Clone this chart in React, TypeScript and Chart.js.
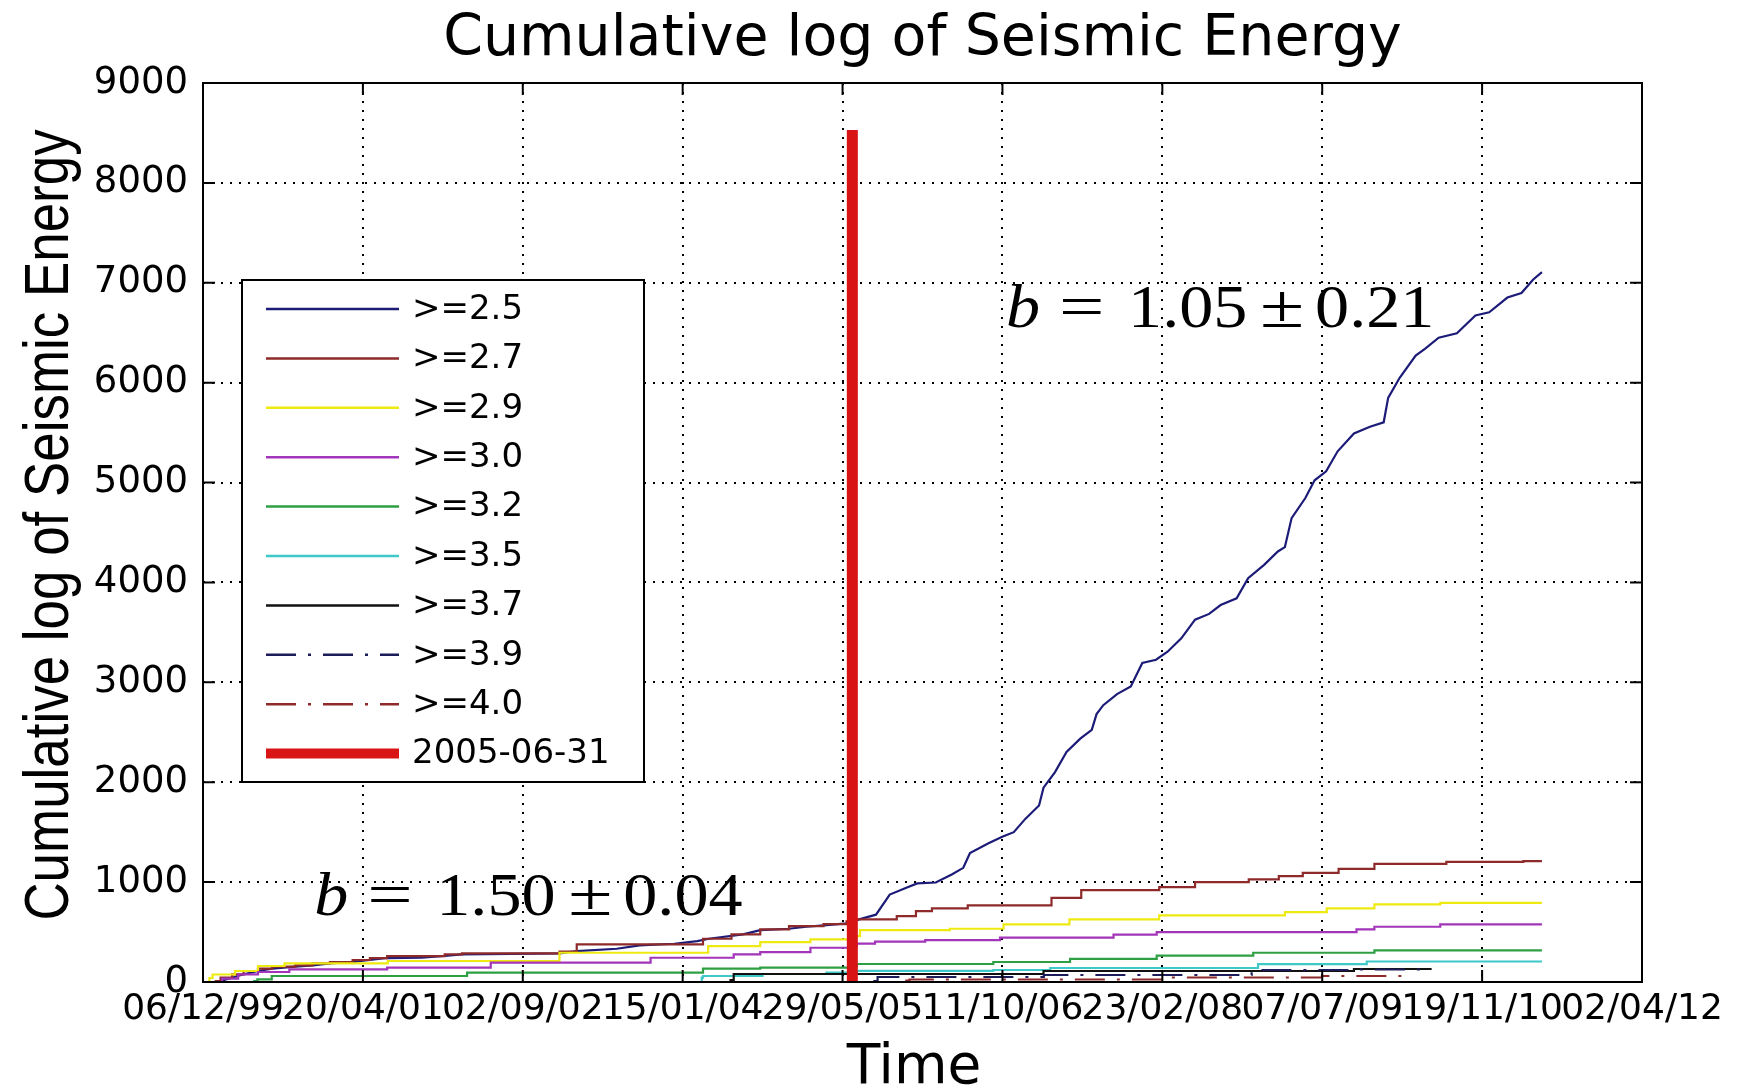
import React, { useEffect, useRef } from "react";
import { Chart, registerables } from "chart.js";

Chart.register(...registerables);

// ---------- data ----------
const X_SPAN_DAYS = 4501; // days from 06/12/1999 to 02/04/2012
const X_TICK_LABELS = [
  "06/12/99", "20/04/01", "02/09/02", "15/01/04", "29/05/05",
  "11/10/06", "23/02/08", "07/07/09", "19/11/10", "02/04/12",
];
const Y_MAX = 9000;
const Y_STEP = 1000;

const SERIES_LABELS = [">=2.5", ">=2.7", ">=2.9", ">=3.0", ">=3.2", ">=3.5", ">=3.7", ">=3.9", ">=4.0"];

// [day since 06/12/1999, cumulative value]
const M25: [number, number][] = [
  [40, 0], [55, 10], [91, 43], [127, 77], [172, 110], [217, 133], [289, 153], [343, 167], [397, 187],
  [468, 200], [522, 220], [576, 240], [684, 243], [756, 260], [810, 277], [1115, 287], [1169, 310],
  [1294, 333], [1366, 367], [1474, 383], [1546, 410], [1582, 433], [1689, 477], [1743, 520], [1833, 533],
  [1887, 553], [1941, 567], [2013, 587], [2033, 600], [2055, 630], [2105, 674], [2148, 875], [2198, 942],
  [2234, 987], [2292, 996], [2342, 1076], [2378, 1143], [2399, 1290], [2457, 1388], [2500, 1455],
  [2536, 1500], [2572, 1633], [2615, 1767], [2629, 1946], [2665, 2102], [2701, 2302], [2744, 2436],
  [2780, 2525], [2795, 2682], [2816, 2771], [2859, 2882], [2902, 2958], [2938, 3194], [2981, 3226],
  [3017, 3306], [3060, 3440], [3103, 3627], [3147, 3685], [3183, 3774], [3233, 3841], [3269, 4042],
  [3319, 4176], [3362, 4310], [3384, 4354], [3405, 4644], [3448, 4845], [3477, 5023], [3513, 5112],
  [3549, 5313], [3600, 5491], [3650, 5558], [3693, 5603], [3707, 5848], [3743, 6049], [3793, 6272],
  [3822, 6339], [3865, 6450], [3922, 6495], [3980, 6673], [4023, 6705], [4080, 6852], [4124, 6897],
  [4160, 7031], [4188, 7106],
];
const M27: [number, number][] = [
  [40, 0], [55, 10], [91, 43], [127, 77], [172, 110], [217, 133], [289, 153], [343, 167], [397, 187],
  [468, 200], [522, 220], [576, 240], [756, 260], [810, 277], [1115, 287], [1169, 305], [1564, 377],
  [1653, 433], [1743, 477], [1833, 527], [1941, 560], [2013, 580], [2040, 607], [2170, 627], [2230, 660],
  [2280, 710], [2392, 737], [2654, 767], [2747, 843], [2991, 920], [3103, 950], [3271, 1000], [3365, 1027],
  [3440, 1060], [3552, 1093], [3664, 1133], [3889, 1183], [4130, 1203], [4188, 1210],
];
const M29: [number, number][] = [
  [20, 0], [30, 40], [100, 75], [172, 110], [255, 160], [578, 187], [1115, 210], [1580, 293], [1743, 360],
  [1900, 400], [2020, 427], [2055, 460], [2336, 520], [2504, 533], [2710, 577], [2991, 627], [3384, 667],
  [3515, 700], [3664, 737], [3870, 777], [4038, 793], [4188, 793],
];
const M30: [number, number][] = [
  [60, 0], [110, 33], [172, 77], [270, 100], [576, 127], [900, 143], [1400, 193], [1660, 243], [1743, 277],
  [1900, 300], [2020, 343], [2045, 360], [2102, 385], [2259, 405], [2493, 420], [2848, 445], [2983, 475],
  [3608, 500], [3664, 527], [3870, 553], [4020, 577], [4188, 577],
];
const M32: [number, number][] = [
  [160, 0], [170, 10], [215, 27], [826, 60], [1564, 93], [1743, 133], [2020, 143], [2045, 155], [2472, 180],
  [2712, 200], [2983, 232], [3285, 265], [3664, 293], [3739, 317], [4188, 317],
];
const M35: [number, number][] = [
  [1560, 0], [1564, 43], [1750, 60], [1950, 80], [2045, 95], [2472, 112], [2650, 120], [3300, 140],
  [3640, 178], [4010, 205], [4188, 205],
];
const M37: [number, number][] = [[1650, 0], [1660, 20], [2629, 80], [3600, 110], [3660, 130], [3843, 130]];
const M39: [number, number][] = [[2100, 0], [2110, 10], [2630, 50], [3280, 70], [3600, 120], [3843, 125]];
const M40: [number, number][] = [[2200, 0], [2210, 15], [3000, 25], [3500, 45], [3750, 60]];

const BREAK_LABEL = "2005-06-31";
const BREAK_DAY = 2031;
const BREAK_TOP = 8530;

const B_BEFORE = ["b", "=", "1.50", "±", "0.04"];
const B_AFTER = ["b", "=", "1.05", "±", "0.21"];
// annotation anchors in data units [day, value]
const B_BEFORE_AT: [number, number] = [348, 672];
const B_AFTER_AT: [number, number] = [2512, 6560];

// ---------- styles ----------
const SERIES_DATA = [M25, M27, M29, M30, M32, M35, M37, M39, M40];
const SERIES_COLORS = ["#1c1c78", "#8e2a2a", "#eeea10", "#a335ba", "#2ea043", "#3ec8c8", "#111111", "#1c1c5a", "#8e2a2a"];
const DASHDOT = [30, 12, 3, 12];
const SERIES_DASH = [[], [], [], [], [], [], [], DASHDOT, DASHDOT];
const SERIES_STEPPED: (false | "after")[] = [false, "after", "after", "after", "after", "after", "after", "after", "after"];
const BREAK_COLOR = "#d91414";
const B_PIECE_OFFSETS = [0, 53, 122, 254, 309];
const B_PIECE_XSCALE = [1.1, 1.3, 1.1, 1.3, 1.1];

const SANS = '"DejaVu Sans", sans-serif';

const overlay = {
  id: "overlay",
  afterDatasetsDraw(chart: any) {
    const { ctx, chartArea: a, scales } = chart;
    const xs = scales.x;
    const ys = scales.y;
    ctx.save();
    ctx.strokeStyle = "#000";
    ctx.lineWidth = 2;
    ctx.setLineDash([]);
    const TL = 12;
    xs.ticks.forEach((t: any) => {
      const px = xs.getPixelForValue(t.value);
      ctx.beginPath();
      ctx.moveTo(px, a.bottom); ctx.lineTo(px, a.bottom - TL);
      ctx.moveTo(px, a.top); ctx.lineTo(px, a.top + TL);
      ctx.stroke();
    });
    ys.ticks.forEach((t: any) => {
      const py = ys.getPixelForValue(t.value);
      ctx.beginPath();
      ctx.moveTo(a.left, py); ctx.lineTo(a.left + TL, py);
      ctx.moveTo(a.right, py); ctx.lineTo(a.right - TL, py);
      ctx.stroke();
    });
    ctx.lineWidth = 2;
    ctx.strokeRect(a.left, a.top, a.right - a.left, a.bottom - a.top);
    ctx.restore();
  },
  afterDraw(chart: any) {
    const { ctx, chartArea: a, scales } = chart;
    const xs = scales.x;
    const ys = scales.y;
    ctx.save();
    ctx.fillStyle = "#000";
    // title
    ctx.font = `57px ${SANS}`;
    ctx.textAlign = "center";
    ctx.textBaseline = "alphabetic";
    ctx.fillText("Cumulative log of Seismic Energy", (a.left + a.right) / 2, 55);
    // x title
    ctx.font = `55px ${SANS}`;
    ctx.fillText("Time", 914, 1083);
    // y title
    ctx.save();
    ctx.translate(68, 525);
    ctx.rotate(-Math.PI / 2);
    ctx.scale(0.84, 1);
    ctx.font = `63px "Liberation Sans", Arial, sans-serif`;
    ctx.fillText("Cumulative log of Seismic Energy", 0, 0);
    ctx.restore();

    // legend
    const L = { x: 242, y: 280, w: 402, h: 502, row0: 309, gap: 49.4, s0: 266, s1: 399, tx: 412 };
    ctx.fillStyle = "#fff";
    ctx.fillRect(L.x, L.y, L.w, L.h);
    ctx.strokeStyle = "#000";
    ctx.lineWidth = 2;
    ctx.strokeRect(L.x, L.y, L.w, L.h);
    const labels = [...SERIES_LABELS, BREAK_LABEL];
    labels.forEach((lab, i) => {
      const y = L.row0 + i * L.gap;
      ctx.save();
      if (i < SERIES_LABELS.length) {
        ctx.strokeStyle = SERIES_COLORS[i];
        ctx.lineWidth = 2.5;
        ctx.setLineDash(SERIES_DASH[i]);
      } else {
        ctx.strokeStyle = BREAK_COLOR;
        ctx.lineWidth = 10;
        ctx.setLineDash([]);
      }
      ctx.beginPath();
      ctx.moveTo(L.s0, y);
      ctx.lineTo(L.s1, y);
      ctx.stroke();
      ctx.restore();
      ctx.fillStyle = "#000";
      ctx.font = `34px ${SANS}`;
      ctx.textAlign = "left";
      ctx.textBaseline = "middle";
      ctx.fillText(lab, L.tx, y + 1);
    });

    // b-value annotations
    const drawB = (pieces: string[], at: [number, number]) => {
      const px = xs.getPixelForValue(at[0]);
      const py = ys.getPixelForValue(at[1]);
      ctx.textAlign = "left";
      ctx.textBaseline = "alphabetic";
      ctx.fillStyle = "#000";
      pieces.forEach((p, i) => {
        ctx.save();
        ctx.translate(px + B_PIECE_OFFSETS[i], py);
        ctx.scale(B_PIECE_XSCALE[i], 1);
        ctx.font = i === 0 ? `italic 62px "Liberation Serif", serif` : `62px "Liberation Serif", serif`;
        ctx.fillText(p, 0, 0);
        ctx.restore();
      });
    };
    drawB(B_BEFORE, B_BEFORE_AT);
    drawB(B_AFTER, B_AFTER_AT);
    ctx.restore();
  },
};

export default function App() {
  const ref = useRef<HTMLCanvasElement | null>(null);
  useEffect(() => {
    document.body.style.margin = "0";
    const canvas = ref.current;
    if (!canvas) return;
    const datasets: any[] = SERIES_DATA.map((d, i) => ({
      label: SERIES_LABELS[i],
      data: d.map(([x, y]) => ({ x, y })),
      borderColor: SERIES_COLORS[i],
      borderWidth: 2.2,
      borderDash: SERIES_DASH[i],
      stepped: SERIES_STEPPED[i],
      pointRadius: 0,
      fill: false,
      tension: 0,
      order: 20 - i,
    }));
    datasets.push({
      label: BREAK_LABEL,
      data: [{ x: BREAK_DAY, y: 0 }, { x: BREAK_DAY, y: BREAK_TOP }],
      borderColor: BREAK_COLOR,
      borderWidth: 11,
      borderCapStyle: "butt",
      pointRadius: 0,
      fill: false,
      order: 1,
    });
    const chart = new Chart(canvas, {
      type: "line",
      data: { datasets },
      plugins: [overlay],
      options: {
        responsive: false,
        animation: false,
        events: [],
        layout: { padding: { left: 0, top: 83, right: 96, bottom: 0 } },
        plugins: { legend: { display: false }, title: { display: false }, tooltip: { enabled: false } },
        scales: {
          x: {
            type: "linear",
            min: 0,
            max: X_SPAN_DAYS,
            afterBuildTicks: (axis: any) => {
              axis.ticks = X_TICK_LABELS.map((_, i) => ({ value: (i * X_SPAN_DAYS) / (X_TICK_LABELS.length - 1) }));
            },
            afterFit: (s: any) => { s.height = 105; },
            grid: { color: "#000", lineWidth: 2, drawTicks: false },
            border: { display: false, dash: [2, 7] },
            ticks: {
              autoSkip: false,
              maxRotation: 0,
              padding: 6,
              color: "#000",
              font: { family: "DejaVu Sans", size: 36 },
              callback: (_v: any, i: number) => X_TICK_LABELS[i],
            },
          },
          y: {
            type: "linear",
            min: 0,
            max: Y_MAX,
            afterFit: (s: any) => { s.width = 203; },
            grid: { color: "#000", lineWidth: 2, drawTicks: false },
            border: { display: false, dash: [2, 7] },
            ticks: {
              stepSize: Y_STEP,
              padding: 15,
              color: "#000",
              font: { family: "DejaVu Sans", size: 37 },
              callback: (v: any) => String(v),
            },
          },
        },
      },
    });
    return () => chart.destroy();
  }, []);
  return (
    <div style={{ width: 1738, height: 1087, background: "#fff" }}>
      <canvas ref={ref} width={1738} height={1087} style={{ display: "block" }} />
    </div>
  );
}
